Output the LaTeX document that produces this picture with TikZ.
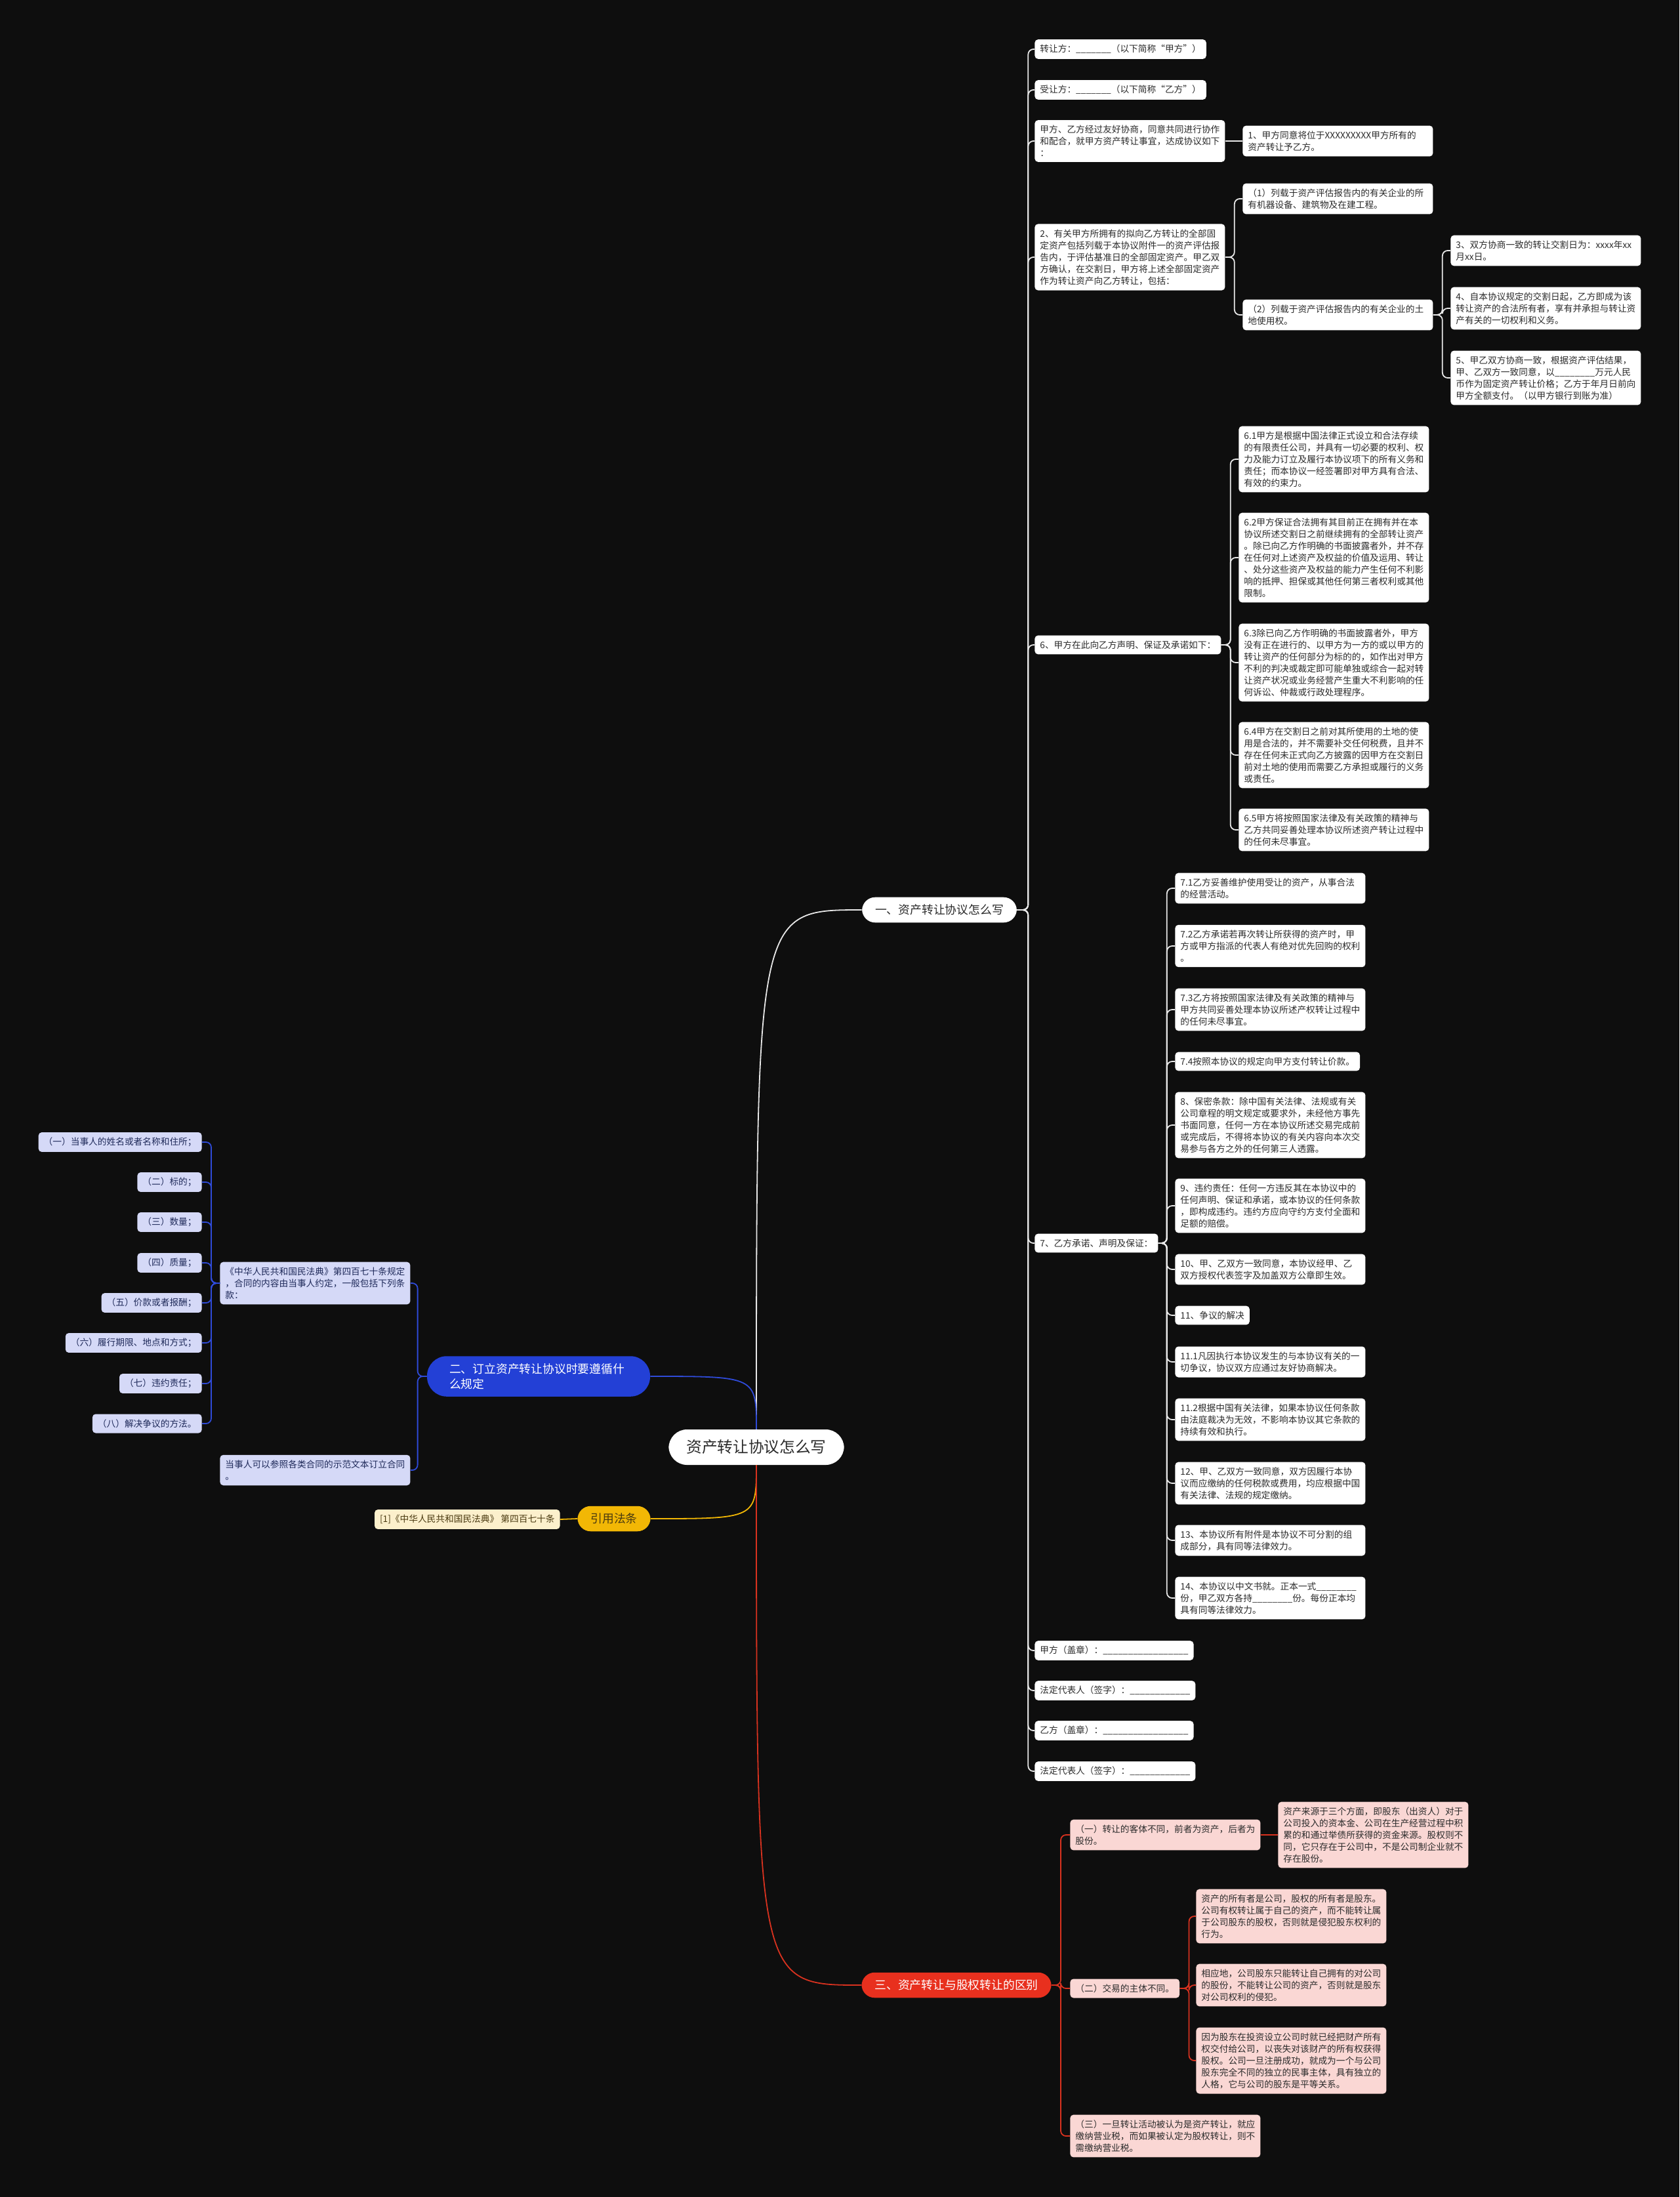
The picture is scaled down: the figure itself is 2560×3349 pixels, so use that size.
\documentclass[tikz,border=0pt]{standalone}
\usepackage{fontspec}
\setmainfont{Noto Sans CJK SC}
\usepackage{tikz}

\definecolor{bgc}{HTML}{0E0E0E}
\definecolor{ink}{HTML}{2B2B2B}
\definecolor{linew}{HTML}{E8E8E8}
\definecolor{blueB}{HTML}{2340D6}
\definecolor{blueL}{HTML}{2F4BD9}
\definecolor{lav}{HTML}{D5D9F7}
\definecolor{navy}{HTML}{1F2A5A}
\definecolor{gold}{HTML}{F2B705}
\definecolor{cream}{HTML}{FCF0CC}
\definecolor{brown}{HTML}{4A3A10}
\definecolor{redB}{HTML}{E8301E}
\definecolor{redL}{HTML}{D9321F}
\definecolor{pink}{HTML}{FAD7D4}

\begin{document}
\begin{tikzpicture}[x=0.5pt,y=-0.5pt,
  leaf/.style={fill=white,text=ink,rounded corners=2.5pt,align=left,anchor=west,
    inner xsep=4pt,inner ysep=4pt,font=\fontsize{6.85pt}{9pt}\selectfont},
  wide/.style={text width=137pt},
  pk/.style={leaf,fill=pink},
  lv/.style={leaf,fill=lav,text=navy},
  pill/.style={rounded corners=10pt,inner xsep=10pt,inner ysep=5.5pt,
    font=\fontsize{8.9pt}{11.5pt}\selectfont},
  wl/.style={draw=linew,line width=0.9pt,rounded corners=4pt},
  bl/.style={wl,draw=blueL}, yl/.style={wl,draw=gold}, rl/.style={wl,draw=redL}]
\path[use as bounding box,fill=bgc] (0,0) rectangle (2560,3349);

% centre and main branches
\node[fill=white,text=ink,rounded corners=14pt,inner xsep=13.5pt,inner ysep=8pt,
  font=\fontsize{11.85pt}{14pt}\selectfont] (root) at (1153,2206) {资产转让协议怎么写};
\node[pill,fill=white,text=ink] (b1) at (1432,1387) {一、资产转让协议怎么写};
\node[pill,fill=blueB,text=white,align=left,text width=136pt,inner xsep=17pt,
  rounded corners=15pt] (b2) at (821,2098) {二、订立资产转让协议时要遵循什\\么规定};
\node[pill,fill=gold,text=brown] (law) at (936,2315) {引用法条};
\node[pill,fill=redB,text=white] (b3) at (1458,3026) {三、资产转让与股权转让的区别};

\draw[wl] (root.north) .. controls (root.north |- b1.west) .. (b1.west);
\draw[bl] (root.north) .. controls (root.north |- b2.east) .. (b2.east);
\draw[yl] (root.south) .. controls (root.south |- law.east) .. (law.east);
\draw[rl] (root.south) .. controls (root.south |- b3.west) .. (b3.west);

% branch one
\node[leaf] (t1) at (1577,75) {转让方：\_\_\_\_\_\_\_（以下简称“甲方”）};
\node[leaf] (t2) at (1577,137) {受让方：\_\_\_\_\_\_\_（以下简称“乙方”）};
\node[leaf,wide] (t3) at (1577,215) {甲方、乙方经过友好协商，同意共同进行协作\\和配合，就甲方资产转让事宜，达成协议如下\\：};
\node[leaf,wide] (t3a) at (1894,215) {1、甲方同意将位于XXXXXXXXX甲方所有的\\资产转让予乙方。};
\node[leaf,wide] (t4) at (1577,392) {2、有关甲方所拥有的拟向乙方转让的全部固\\定资产包括列载于本协议附件一的资产评估报\\告内，于评估基准日的全部固定资产。甲乙双\\方确认，在交割日，甲方将上述全部固定资产\\作为转让资产向乙方转让，包括：};
\node[leaf,wide] (t4a) at (1894,303) {（1）列载于资产评估报告内的有关企业的所\\有机器设备、建筑物及在建工程。};
\node[leaf,wide] (t4b) at (1894,480) {（2）列载于资产评估报告内的有关企业的土\\地使用权。};
\node[leaf,wide] (t4b1) at (2211,382) {3、双方协商一致的转让交割日为：xxxx年xx\\月xx日。};
\node[leaf,wide] (t4b2) at (2211,470) {4、自本协议规定的交割日起，乙方即成为该\\转让资产的合法所有者，享有并承担与转让资\\产有关的一切权利和义务。};
\node[leaf,wide] (t4b3) at (2211,576) {5、甲乙双方协商一致，根据资产评估结果，\\甲、乙双方一致同意，以\_\_\_\_\_\_\_\_万元人民\\币作为固定资产转让价格；乙方于年月日前向\\甲方全额支付。（以甲方银行到账为准）};

\node[leaf] (t6) at (1577,983) {6、甲方在此向乙方声明、保证及承诺如下：};
\node[leaf,wide] (p61) at (1888,700) {6.1甲方是根据中国法律正式设立和合法存续\\的有限责任公司，并具有一切必要的权利、权\\力及能力订立及履行本协议项下的所有义务和\\责任；而本协议一经签署即对甲方具有合法、\\有效的约束力。};
\node[leaf,wide] (p62) at (1888,850) {6.2甲方保证合法拥有其目前正在拥有并在本\\协议所述交割日之前继续拥有的全部转让资产\\。除已向乙方作明确的书面披露者外，并不存\\在任何对上述资产及权益的价值及运用、转让\\、处分这些资产及权益的能力产生任何不利影\\响的抵押、担保或其他任何第三者权利或其他\\限制。};
\node[leaf,wide] (p63) at (1888,1010) {6.3除已向乙方作明确的书面披露者外，甲方\\没有正在进行的、以甲方为一方的或以甲方的\\转让资产的任何部分为标的的，如作出对甲方\\不利的判决或裁定即可能单独或综合一起对转\\让资产状况或业务经营产生重大不利影响的任\\何诉讼、仲裁或行政处理程序。};
\node[leaf,wide] (p64) at (1888,1151) {6.4甲方在交割日之前对其所使用的土地的使\\用是合法的，并不需要补交任何税费，且并不\\存在任何未正式向乙方披露的因甲方在交割日\\前对土地的使用而需要乙方承担或履行的义务\\或责任。};
\node[leaf,wide] (p65) at (1888,1265) {6.5甲方将按照国家法律及有关政策的精神与\\乙方共同妥善处理本协议所述资产转让过程中\\的任何未尽事宜。};

\node[leaf] (t7) at (1577,1895) {7、乙方承诺、声明及保证：};
\node[leaf,wide] (q71) at (1791,1354) {7.1乙方妥善维护使用受让的资产，从事合法\\的经营活动。};
\node[leaf,wide] (q72) at (1791,1442) {7.2乙方承诺若再次转让所获得的资产时，甲\\方或甲方指派的代表人有绝对优先回购的权利\\。};
\node[leaf,wide] (q73) at (1791,1539) {7.3乙方将按照国家法律及有关政策的精神与\\甲方共同妥善处理本协议所述产权转让过程中\\的任何未尽事宜。};
\node[leaf] (q74) at (1791,1618) {7.4按照本协议的规定向甲方支付转让价款。};
\node[leaf,wide] (q8) at (1791,1715) {8、保密条款：除中国有关法律、法规或有关\\公司章程的明文规定或要求外，未经他方事先\\书面同意，任何一方在本协议所述交易完成前\\或完成后，不得将本协议的有关内容向本次交\\易参与各方之外的任何第三人透露。};
\node[leaf,wide] (q9) at (1791,1838) {9、违约责任：任何一方违反其在本协议中的\\任何声明、保证和承诺，或本协议的任何条款\\，即构成违约。违约方应向守约方支付全面和\\足额的赔偿。};
\node[leaf,wide] (q10) at (1791,1935) {10、甲、乙双方一致同意，本协议经甲、乙\\双方授权代表签字及加盖双方公章即生效。};
\node[leaf] (q11) at (1791,2005) {11、争议的解决};
\node[leaf,wide] (q111) at (1791,2076) {11.1凡因执行本协议发生的与本协议有关的一\\切争议，协议双方应通过友好协商解决。};
\node[leaf,wide] (q112) at (1791,2164) {11.2根据中国有关法律，如果本协议任何条款\\由法庭裁决为无效，不影响本协议其它条款的\\持续有效和执行。};
\node[leaf,wide] (q12) at (1791,2261) {12、甲、乙双方一致同意，双方因履行本协\\议而应缴纳的任何税款或费用，均应根据中国\\有关法律、法规的规定缴纳。};
\node[leaf,wide] (q13) at (1791,2348) {13、本协议所有附件是本协议不可分割的组\\成部分，具有同等法律效力。};
\node[leaf,wide] (q14) at (1791,2436) {14、本协议以中文书就。正本一式\_\_\_\_\_\_\_\_\\份，甲乙双方各持\_\_\_\_\_\_\_\_份。每份正本均\\具有同等法律效力。};

\node[leaf] (s1) at (1577,2516) {甲方（盖章）：\_\_\_\_\_\_\_\_\_\_\_\_\_\_\_\_\_};
\node[leaf] (s2) at (1577,2577) {法定代表人（签字）：\_\_\_\_\_\_\_\_\_\_\_\_};
\node[leaf] (s3) at (1577,2638) {乙方（盖章）：\_\_\_\_\_\_\_\_\_\_\_\_\_\_\_\_\_};
\node[leaf] (s4) at (1577,2700) {法定代表人（签字）：\_\_\_\_\_\_\_\_\_\_\_\_};

\foreach \c in {t1,t2,t3,t4,t6,t7,s1,s2,s3,s4}
  \draw[wl] (b1.east) -- ++(17,0) |- (\c.west);
\draw[wl] (t3.east) -- (t3a.west);
\foreach \c in {t4a,t4b} \draw[wl] (t4.east) -- ++(14,0) |- (\c.west);
\foreach \c in {t4b1,t4b2,t4b3} \draw[wl] (t4b.east) -- ++(14,0) |- (\c.west);
\foreach \c in {p61,p62,p63,p64,p65} \draw[wl] (t6.east) -- ++(14,0) |- (\c.west);
\foreach \c in {q71,q72,q73,q74,q8,q9,q10,q11,q111,q112,q12,q13,q14}
  \draw[wl] (t7.east) -- ++(13,0) |- (\c.west);

% branch two
\node[lv,wide] (m1) at (335,1956) {《中华人民共和国民法典》第四百七十条规定\\，合同的内容由当事人约定，一般包括下列条\\款：};
\node[lv,wide] (m2) at (335,2241) {当事人可以参照各类合同的示范文本订立合同\\。};
\node[lv,anchor=east] (k1) at (308,1741) {（一）当事人的姓名或者名称和住所；};
\node[lv,anchor=east] (k2) at (308,1802) {（二）标的；};
\node[lv,anchor=east] (k3) at (308,1863) {（三）数量；};
\node[lv,anchor=east] (k4) at (308,1925) {（四）质量；};
\node[lv,anchor=east] (k5) at (308,1986) {（五）价款或者报酬；};
\node[lv,anchor=east] (k6) at (308,2047) {（六）履行期限、地点和方式；};
\node[lv,anchor=east] (k7) at (308,2109) {（七）违约责任；};
\node[lv,anchor=east] (k8) at (308,2170) {（八）解决争议的方法。};
\foreach \c in {m1,m2} \draw[bl] (b2.west) -- ++(-14,0) |- (\c.east);
\foreach \c in {k1,k2,k3,k4,k5,k6,k7,k8} \draw[bl] (m1.west) -- ++(-13,0) |- (\c.east);

% cited law
\node[leaf,fill=cream,text=brown,anchor=east] (cite) at (854,2316) {[1]《中华人民共和国民法典》 第四百七十条};
\draw[yl] (law.west) -- (cite.east);

% branch three
\node[pk,wide] (r1) at (1631,2797) {（一）转让的客体不同，前者为资产，后者为\\股份。};
\node[pk,wide] (r1a) at (1948,2797) {资产来源于三个方面，即股东（出资人）对于\\公司投入的资本金、公司在生产经营过程中积\\累的和通过举债所获得的资金来源。股权则不\\同，它只存在于公司中，不是公司制企业就不\\存在股份。};
\node[pk] (r2) at (1631,3031) {（二）交易的主体不同。};
\node[pk,wide] (r2a) at (1823,2921) {资产的所有者是公司，股权的所有者是股东。\\公司有权转让属于自己的资产，而不能转让属\\于公司股东的股权，否则就是侵犯股东权利的\\行为。};
\node[pk,wide] (r2b) at (1823,3026) {相应地，公司股东只能转让自己拥有的对公司\\的股份，不能转让公司的资产，否则就是股东\\对公司权利的侵犯。};
\node[pk,wide] (r2c) at (1823,3141) {因为股东在投资设立公司时就已经把财产所有\\权交付给公司，以丧失对该财产的所有权获得\\股权。公司一旦注册成功，就成为一个与公司\\股东完全不同的独立的民事主体，具有独立的\\人格，它与公司的股东是平等关系。};
\node[pk,wide] (r3) at (1631,3256) {（三）一旦转让活动被认为是资产转让，就应\\缴纳营业税，而如果被认定为股权转让，则不\\需缴纳营业税。};
\foreach \c in {r1,r2,r3} \draw[rl] (b3.east) -- ++(14,0) |- (\c.west);
\draw[rl] (r1.east) -- (r1a.west);
\foreach \c in {r2a,r2b,r2c} \draw[rl] (r2.east) -- ++(14,0) |- (\c.west);
\end{tikzpicture}
\end{document}
